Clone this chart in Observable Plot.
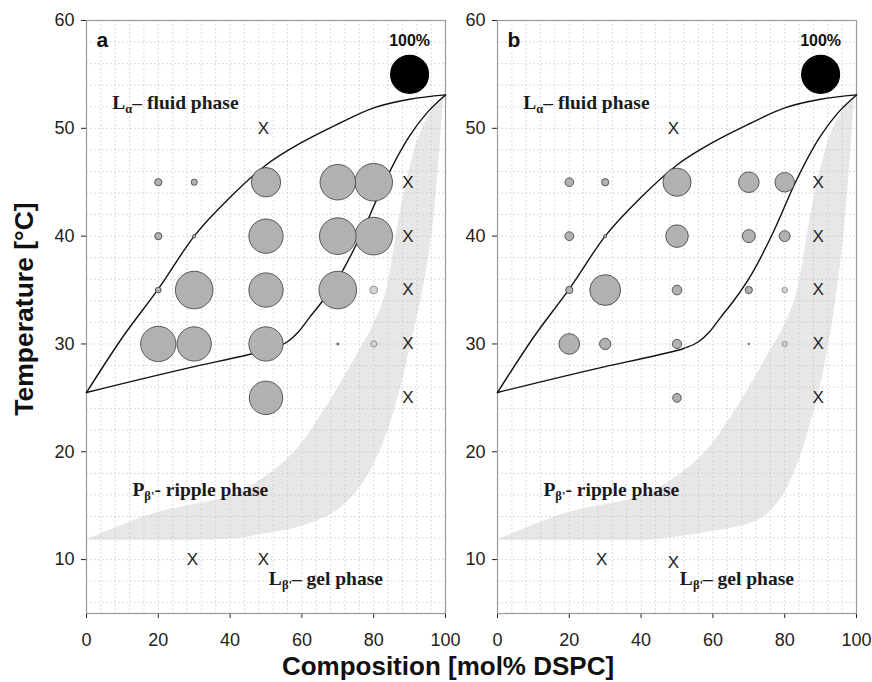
<!DOCTYPE html>
<html><head><meta charset="utf-8">
<script src="https://cdn.jsdelivr.net/npm/d3@7"></script>
<script src="https://cdn.jsdelivr.net/npm/@observablehq/plot@0.6"></script>
<style>
body{margin:0;background:#fff;}
#wrap{position:relative;width:872px;height:682px;font-family:Arial,"Liberation Sans",sans-serif;overflow:hidden;background:#fff;}
#pa,#pb{position:absolute;top:0;}
#pa{left:0px}
#pb{left:436px}
#ytitle{position:absolute;left:24px;top:309px;transform:translate(-50%,-50%) rotate(-90deg);white-space:nowrap;font-weight:bold;font-size:26.5px;color:#111;}
#xtitle{position:absolute;left:448px;top:651px;transform:translateX(-50%);white-space:nowrap;font-weight:bold;font-size:26px;color:#111;}
</style></head>
<body>
<div id="wrap">
  <div id="pa"></div>
  <div id="pb"></div>
  <div id="ytitle">Temperature [°C]</div>
  <div id="xtitle">Composition [mol% DSPC]</div>
</div>
<script>
// ---- data ----
const xTicks = [0, 20, 40, 60, 80, 100];
const yTicks = [10, 20, 30, 40, 50, 60];
const gridXValues = [4,8,12,16,20,24,28,32,36,40,44,48,52,56,60,64,68,72,76,80,84,88,92,96];
const gridYValues = [6,8,10,12,14,16,18,20,22,24,26,28,30,32,34,36,38,40,42,44,46,48,50,52,54,56,58];

// sample grid (composition mol% DSPC, temperature °C)
const pointComp = [20,30,50,70,80, 20,30,50,70,80, 20,30,50,70,80, 20,30,50,70,80, 50];
const pointTemp = [45,45,45,45,45, 40,40,40,40,40, 35,35,35,35,35, 30,30,30,30,30, 25];
const pointKind = ["main","main","main","main","main", "main","main","main","main","main",
                   "main","main","main","main","trace", "main","main","main","main","trace", "main"];
// relative amount (% of reference, 100% = black disc)
const amountA = [3.7,2.7,61,89,100, 3.7,0.7,83,95,100, 2.3,100,83,100,4.3, 88,83,83,0.3,2.7, 79];
const amountB = [5.3,3.7,56,30,27, 5.5,0.7,36,12,8.4, 3.7,67,6.6,3.7,2.2, 30,9,6,0.15,1.9, 5.3];

const refComp = [90], refTemp = [55], refAmount = [100], refLabel = ["100%"];

const crossCompA = [49.3, 89.5, 89.5, 89.5, 89.5, 89.5, 29.5, 49.3];
const crossTempA = [50, 45, 40, 35, 30, 25, 10, 10];
const crossCompB = [49, 89.3, 89.3, 89.3, 89.3, 89.3, 29, 49];
const crossTempB = [50, 45, 40, 35, 30, 25, 10, 9.7];

// phase boundaries
const liquidusComp = [0,10,20,30,40,50,60,70,80,90,100];
const liquidusTemp = [25.5,30.6,35.1,40,43.6,46.6,48.7,50.4,51.9,52.7,53.1];
const solidusComp = [0,30,45,52,56,59,62,66,71,77,83,90,95,100];
const solidusTemp = [25.5,27.9,29.0,29.6,30.2,31.1,32.4,34.1,36.6,40.5,45,49.3,51.5,53.1];

// shaded transition band
const bandComp   = [0,10,20,30,40,50,60,65,70,75,80,83.6,87.2,91.4,94,97,99.5];
const bandUpper  = [11.8,13.2,14.4,15.1,15.9,17.7,20.8,23.2,25.9,28.8,31.8,35,41.8,48,50.3,52,53];
const bandLowerA = [11.8,11.8,11.8,11.8,11.9,12.4,13.1,13.7,14.6,16.2,18.8,21.6,25.5,31.5,35.5,42.5,53];
const bandLowerB = [11.8,11.8,11.8,11.8,11.8,12.1,12.6,12.9,13.3,14.2,16.2,18.8,22.6,28.4,33.5,42,53];

// phase labels: text with {subscript}
const phaseText = ["L{α}– fluid phase", "P{β'}- ripple phase", "L{β'}– gel phase"];
const phaseComp = [7.2, 12.8, 50.8];
const phaseTemp = [52.4, 16.5, 8.25];
const panelLetters = ["a", "b"];

// ---- build ----
const pts = amount => pointComp.map((c, i) => ({x: c, y: pointTemp[i], v: amount[i], kind: pointKind[i]}));
const crosses = (cx, cy) => cx.map((c, i) => ({x: c, y: cy[i]}));
const liquidus = liquidusComp.map((c, i) => ({x: c, y: liquidusTemp[i]}));
const solidus = solidusComp.map((c, i) => ({x: c, y: solidusTemp[i]}));
const bandOf = lower => bandComp.map((c, i) => ({x: c, lo: lower[i], hi: bandUpper[i]}));
const ref = refComp.map((c, i) => ({x: c, y: refTemp[i], v: refAmount[i], label: refLabel[i]}));
const phases = phaseText.map((t, i) => ({x: phaseComp[i], y: phaseTemp[i], t}));

function panel(letter, amount, cx, cy, lower, width, marginLeft, marginRight) {
  const svg = Plot.plot({
    width, height: 660,
    marginLeft, marginRight, marginTop: 20, marginBottom: 47,
    style: {fontFamily: "Arial, 'Liberation Sans', sans-serif", fontSize: "18px", color: "#222", background: "transparent", overflow: "visible"},
    x: {domain: [0, 100], ticks: xTicks, tickSize: 5, tickPadding: 15, label: null},
    y: {domain: [5, 60], ticks: yTicks, tickSize: 5, tickPadding: 7, label: null},
    r: {type: "sqrt", domain: [0, 100], range: [0, 18.8]},
    marks: [
      Plot.areaY(bandOf(lower), {x: "x", y1: "lo", y2: "hi", fill: "#e7e7e7", curve: "monotone-x"}),
      Plot.gridX(gridXValues, {stroke: "#c4c4c4", strokeOpacity: 0.6, strokeDasharray: "2,2"}),
      Plot.gridY(gridYValues, {stroke: "#c4c4c4", strokeOpacity: 0.6, strokeDasharray: "2,2"}),
      Plot.frame({stroke: "#9a9a9a", strokeWidth: 1.2}),
      Plot.line(liquidus, {x: "x", y: "y", curve: "monotone-x", stroke: "#111", strokeWidth: 1.4}),
      Plot.line(solidus, {x: "x", y: "y", curve: "monotone-x", stroke: "#111", strokeWidth: 1.4}),
      Plot.dot(pts(amount), {x: "x", y: "y", r: "v",
        fill: d => d.kind === "trace" ? "#d2d2d2" : "#b1b1b1",
        stroke: d => d.kind === "trace" ? "#8a8a8a" : "#4a4a4a", strokeWidth: 0.9}),
      Plot.dot(ref, {x: "x", y: "y", r: "v", fill: "#000", stroke: "#000"}),
      Plot.text(ref, {x: "x", y: "y", text: "label", dy: -34, fontSize: 16, fontWeight: "bold", fill: "#111"}),
      Plot.text(crosses(cx, cy), {x: "x", y: "y", text: () => "X", fontSize: 17, fill: "#222"}),
      Plot.text(phases, {x: "x", y: "y", text: "t", textAnchor: "start", fontSize: 19.5, fontWeight: "bold",
        fontFamily: "'Liberation Serif', 'Times New Roman', serif", fill: "#1a1a1a"}),
      Plot.text([letter], {frameAnchor: "top-left", dx: 10, dy: 12, fontSize: 21, fontWeight: "bold", fill: "#111"})
    ]
  });
  // subscripts
  d3.select(svg).selectAll("text").each(function() {
    const t = this.textContent;
    const m = t.match(/^(.*?)\{(.*?)\}(.*)$/);
    if (!m) return;
    const s = d3.select(this);
    s.selectAll("*").remove();
    s.text(null);
    s.append("tspan").text(m[1]);
    s.append("tspan").attr("dy", 4).attr("font-size", 12.5).text(m[2]);
    s.append("tspan").attr("dy", -4).text(m[3]);
  });
  return svg;
}

document.getElementById("pa").appendChild(panel(panelLetters[0], amountA, crossCompA, crossTempA, bandLowerA, 470, 86, 25));
document.getElementById("pb").appendChild(panel(panelLetters[1], amountB, crossCompB, crossTempB, bandLowerB, 436, 61, 16));
</script>
</body></html>
